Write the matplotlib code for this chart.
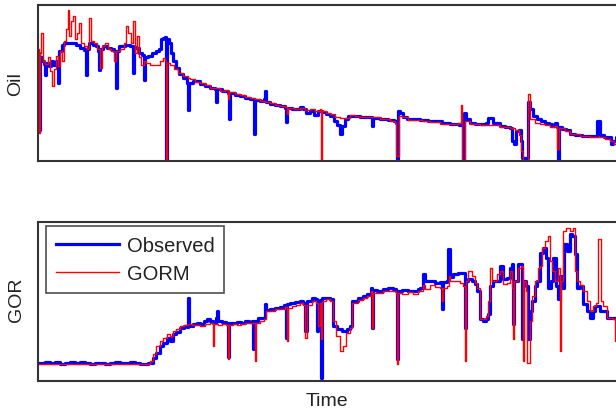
import matplotlib.pyplot as plt

# Oil rate, observed vs GORM (time index, value)
oil_obs_t = [38, 39, 40, 42, 44, 45, 46, 49, 51, 53, 56, 58, 59, 62, 64, 70, 76, 80, 84, 86,
             87, 89, 93, 96, 98, 99, 100, 103, 107, 111, 114, 116, 117, 119, 125, 130, 133, 134, 136, 139,
             142, 144, 145, 148, 152, 156, 159, 161, 163, 165, 166, 167, 169, 171, 173, 176, 179, 183, 187, 188,
             189, 193, 196, 200, 205, 210, 215, 216, 217, 222, 228, 229, 230, 235, 240, 245, 250, 253, 254, 255,
             260, 264, 265, 266, 270, 275, 280, 285, 286, 287, 292, 296, 300, 303, 306, 310, 314, 318, 322, 326,
             330, 334, 337, 340, 342, 345, 348, 352, 360, 366, 371, 372, 373, 380, 388, 394, 396, 397, 398, 400,
             403, 407, 413, 420, 428, 435, 442, 450, 455, 459, 462, 463, 464, 466, 470, 475, 480, 486, 488, 491,
             493, 500, 505, 510, 512, 514, 516, 519, 521, 522, 526, 527, 528, 530, 533, 537, 541, 545, 549, 552,
             555, 557, 558, 559, 562, 566, 570, 575, 582, 590, 596, 597, 599, 600, 604, 608, 610, 611, 613, 616,
             622]
oil_obs = [108, 31, 104, 100, 97, 86, 98, 95, 100, 96, 100, 78, 110, 116, 118, 118, 116, 113, 111, 86,
           112, 118, 116, 115, 110, 91, 112, 115, 113, 112, 110, 73, 110, 115, 116, 115, 88, 114, 113, 108,
           106, 81, 104, 105, 108, 110, 112, 122, 123, 124, 0, 122, 118, 108, 100, 93, 87, 83, 78, 51,
           78, 80, 80, 77, 75, 73, 72, 59, 72, 70, 68, 42, 68, 66, 65, 63, 62, 62, 27, 61,
           60, 62, 70, 59, 57, 56, 55, 53, 39, 53, 52, 52, 54, 52, 48, 50, 46, 50, 49, 47,
           45, 40, 36, 27, 35, 42, 45, 45, 44, 44, 44, 35, 43, 42, 41, 40, 38, 2, 50, 48,
           44, 42, 42, 41, 40, 40, 38, 37, 37, 36, 36, 2, 48, 42, 38, 37, 37, 38, 43, 43,
           38, 35, 34, 33, 20, 17, 30, 31, 20, 3, 3, 3, 59, 52, 45, 42, 40, 38, 37, 35,
           38, 34, 0, 34, 32, 31, 27, 26, 25, 25, 25, 40, 40, 26, 24, 23, 24, 17, 20, 24,
           24]

oil_gorm_t = [38, 39, 40, 41, 43, 45, 48, 50, 52, 54, 56, 58, 60, 62, 64, 66, 68, 69, 71, 73,
              75, 77, 79, 81, 84, 87, 89, 91, 94, 97, 100, 102, 105, 108, 111, 114, 116, 120, 124, 126,
              128, 131, 133, 135, 137, 139, 141, 144, 146, 150, 155, 160, 163, 165, 166, 167, 170, 174, 178, 183,
              188, 190, 195, 200, 205, 210, 215, 220, 225, 228, 229, 235, 240, 245, 250, 255, 260, 265, 270, 275,
              280, 285, 287, 288, 294, 300, 305, 310, 315, 320, 321, 322, 326, 330, 335, 340, 345, 350, 355, 360,
              370, 380, 390, 395, 396, 398, 399, 402, 408, 415, 422, 430, 440, 450, 458, 460, 461, 462, 464, 465,
              470, 480, 490, 500, 510, 515, 519, 521, 523, 527, 528, 530, 535, 540, 545, 550, 555, 557, 559, 565,
              570, 580, 590, 600, 605, 610, 614, 618, 622]
oil_gorm = [112, 28, 108, 128, 100, 97, 104, 90, 75, 92, 105, 95, 110, 100, 120, 132, 151, 125, 140, 145,
            122, 128, 138, 118, 115, 112, 143, 120, 118, 112, 93, 115, 118, 112, 110, 100, 110, 112, 118, 135,
            128, 118, 140, 108, 125, 104, 96, 100, 98, 96, 96, 100, 103, 100, 0, 98, 96, 92, 88, 85,
            83, 82, 79, 78, 76, 73, 73, 70, 71, 62, 69, 67, 66, 64, 63, 62, 60, 59, 58, 56,
            55, 54, 47, 53, 52, 53, 51, 52, 50, 52, 0, 50, 48, 47, 44, 43, 43, 46, 45, 44,
            44, 42, 40, 38, 5, 5, 45, 44, 41, 41, 40, 39, 37, 37, 38, 38, 56, 0, 0, 40,
            37, 36, 36, 34, 33, 31, 26, 10, 0, 0, 67, 42, 38, 37, 36, 34, 35, 12, 33, 30,
            27, 25, 24, 24, 22, 20, 17, 22, 22]

# Gas-oil ratio, observed vs GORM
gor_obs_t = [38, 45, 50, 55, 60, 65, 70, 75, 80, 85, 90, 95, 100, 105, 110, 115, 120, 125, 130, 135,
             140, 145, 148, 153, 156, 160, 163, 167, 170, 173, 176, 180, 184, 187, 188, 189, 193, 197, 200, 204,
             207, 210, 213, 216, 217, 218, 222, 226, 228, 229, 233, 237, 241, 245, 249, 252, 253, 254, 258, 262,
             264, 265, 266, 270, 275, 280, 284, 286, 287, 290, 295, 300, 303, 305, 307, 312, 315, 317, 318, 320,
             321, 322, 326, 330, 332, 333, 337, 342, 347, 350, 352, 358, 363, 367, 371, 372, 373, 377, 383, 388,
             393, 396, 397, 398, 402, 408, 413, 418, 420, 423, 425, 430, 435, 440, 442, 443, 447, 448, 450, 453,
             458, 462, 464, 465, 466, 468, 472, 475, 477, 480, 483, 486, 488, 490, 493, 497, 500, 503, 507, 510,
             512, 513, 514, 518, 521, 522, 523, 526, 528, 530, 532, 535, 537, 540, 543, 546, 548, 551, 553, 556,
             558, 560, 562, 564, 567, 570, 572, 575, 577, 580, 583, 587, 590, 593, 595, 598, 600, 603, 607, 613,
             616, 622]
gor_obs = [18, 19, 18, 19, 17, 18, 19, 18, 19, 18, 17, 18, 18, 17, 18, 19, 18, 18, 19, 18,
           17, 17, 18, 23, 28, 35, 38, 43, 40, 47, 49, 53, 55, 54, 83, 55, 57, 58, 57, 60,
           62, 60, 58, 63, 70, 60, 59, 58, 24, 58, 58, 59, 58, 60, 59, 60, 32, 60, 63, 63,
           63, 77, 71, 72, 73, 74, 76, 43, 77, 78, 79, 80, 78, 50, 80, 83, 82, 50, 80, 81,
           3, 83, 83, 82, 82, 55, 52, 50, 52, 55, 80, 83, 85, 87, 93, 53, 91, 90, 92, 93,
           92, 90, 22, 90, 91, 90, 90, 92, 93, 107, 100, 100, 98, 99, 72, 99, 100, 132, 104, 107,
           108, 108, 108, 53, 100, 102, 100, 97, 90, 62, 60, 62, 67, 95, 100, 100, 115, 102, 103, 113,
           117, 57, 100, 117, 117, 42, 100, 95, 42, 70, 80, 95, 100, 128, 133, 123, 93, 100, 123, 95,
           82, 105, 93, 137, 130, 147, 145, 127, 93, 95, 77, 70, 63, 70, 75, 75, 70, 70, 63, 63,
           60, 58]

gor_gorm_t = [38, 50, 60, 70, 80, 90, 100, 110, 120, 130, 140, 146, 150, 153, 156, 160, 163, 167, 170, 173,
              176, 180, 184, 188, 192, 197, 200, 205, 210, 213, 214, 218, 222, 226, 228, 229, 233, 237, 241, 245,
              249, 252, 255, 256, 260, 264, 266, 270, 275, 280, 285, 287, 288, 292, 296, 300, 303, 305, 307, 312,
              316, 318, 320, 321, 322, 326, 330, 333, 336, 340, 343, 346, 350, 352, 358, 363, 367, 371, 372, 373,
              377, 383, 388, 393, 396, 397, 398, 402, 408, 413, 418, 423, 425, 430, 435, 440, 442, 443, 447, 449,
              450, 455, 460, 462, 463, 465, 466, 468, 472, 475, 477, 480, 483, 486, 488, 490, 492, 497, 500, 503,
              507, 510, 512, 513, 514, 518, 521, 523, 524, 526, 527, 528, 530, 532, 535, 538, 540, 542, 545, 548,
              550, 552, 555, 558, 560, 561, 563, 566, 570, 573, 575, 577, 580, 583, 587, 590, 593, 596, 598, 600,
              601, 603, 607, 613, 615, 616, 622]
gor_gorm = [17, 17, 17, 17, 17, 17, 17, 17, 17, 17, 17, 17, 20, 27, 35, 40, 43, 47, 45, 50,
            52, 55, 56, 57, 56, 56, 55, 57, 58, 35, 57, 56, 57, 56, 22, 56, 57, 56, 57, 58,
            58, 58, 20, 58, 60, 62, 70, 70, 72, 72, 74, 40, 73, 75, 76, 78, 76, 43, 76, 80,
            78, 55, 78, 42, 80, 82, 80, 60, 45, 30, 35, 48, 53, 78, 81, 83, 85, 90, 53, 88,
            88, 90, 90, 90, 88, 17, 88, 87, 89, 87, 90, 96, 92, 96, 94, 93, 80, 93, 95, 105,
            100, 100, 98, 98, 95, 20, 100, 110, 105, 98, 93, 62, 62, 65, 80, 113, 100, 107, 110, 97,
            98, 110, 93, 42, 100, 113, 115, 20, 100, 90, 18, 18, 60, 85, 100, 113, 115, 133, 140, 145,
            120, 110, 100, 113, 30, 100, 150, 153, 150, 153, 110, 100, 96, 90, 80, 70, 75, 78, 142, 142,
            80, 75, 63, 62, 40, 60, 58]

blue = '#0000ff'
red = '#ff0000'
text_col = '#222222'

fig = plt.figure(figsize=(6.16, 4.14), dpi=100)
plt.rcParams['font.family'] = ['Liberation Sans', 'DejaVu Sans']

ax1 = fig.add_axes([38 / 616, 1 - 162 / 414, 587 / 616, 156 / 414])
ax2 = fig.add_axes([38 / 616, 1 - 382 / 414, 587 / 616, 159 / 414])

ax1.plot(oil_obs_t, oil_obs, color=blue, lw=2.3, drawstyle='steps-post', label='Observed')
ax1.plot(oil_gorm_t, oil_gorm, color=red, lw=1.0, drawstyle='steps-post', label='GORM')
ax1.set_ylim(0, 156)

ax2.plot(gor_obs_t, gor_obs, color=blue, lw=2.3, drawstyle='steps-post', label='Observed')
ax2.plot(gor_gorm_t, gor_gorm, color=red, lw=1.0, drawstyle='steps-post', label='GORM')
ax2.set_ylim(0, 159)

for ax in (ax1, ax2):
    ax.set_xlim(38, 625)
    ax.set_xticks([])
    ax.set_yticks([])
    for s in ax.spines.values():
        s.set_linewidth(1.5)
        s.set_color('#333333')

fig.text(16 / 616, 1 - 84 / 414, 'Oil', rotation=90, ha='center', va='center',
         fontsize=14, color=text_col)
fig.text(16 / 616, 1 - 300 / 414, 'GOR', rotation=90, ha='center', va='center',
         fontsize=14, color=text_col)
fig.text(327 / 616, 1 - 402 / 414, 'Time', ha='center', va='center',
         fontsize=14, color=text_col)

leg = ax2.legend(loc='upper left', bbox_to_anchor=(8 / 587, 1 - 4 / 159), borderaxespad=0,
                 fontsize=14.5, handlelength=3.1, frameon=True, fancybox=False,
                 borderpad=0.5, labelspacing=0.45, handletextpad=0.4)
leg.get_frame().set_edgecolor('#222222')
leg.get_frame().set_linewidth(1.2)
for t in leg.get_texts():
    t.set_color(text_col)

fig.savefig('out.png', dpi=100)
